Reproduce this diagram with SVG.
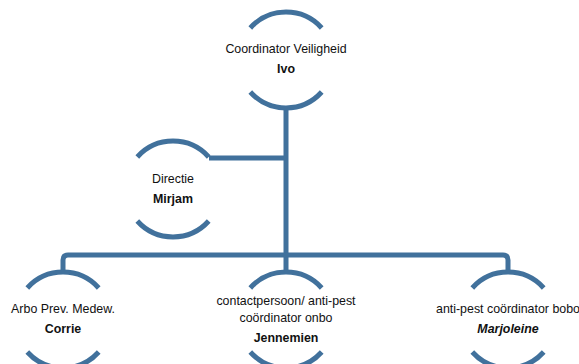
<svg xmlns="http://www.w3.org/2000/svg" width="579" height="364" viewBox="0 0 579 364">
<style>
.arc{fill:none;stroke:#41719C;stroke-width:5;stroke-linecap:butt}
.ln{fill:none;stroke:#41719C;stroke-width:5;stroke-linejoin:round}
text{font-family:"Liberation Sans",Arial,sans-serif;font-size:12.4px;fill:#111;text-anchor:middle}
.b{font-weight:bold}
.bi{font-weight:bold;font-style:italic}
</style>
<rect width="579" height="364" fill="#fff"/>
<g id="connectors">
<path class="ln" d="M286,107 V272"/>
<path class="ln" d="M209,158 H286"/>
<path class="ln" d="M63,272 V260 Q63,255 68,255 H503 Q508,255 508,260 V272"/>
</g>
<g id="n-ivo">
<path class="arc" d="M250.3,28 A48,48 0 0 1 321.7,28"/>
<path class="arc" d="M250.3,92 A48,48 0 0 0 321.7,92"/>
<text x="286" y="53">Coordinator Veiligheid</text>
<text class="b" x="286" y="73">Ivo</text>
</g>
<g id="n-mirjam">
<path class="arc" d="M137.3,157 A48,48 0 0 1 208.7,157"/>
<path class="arc" d="M137.3,221 A48,48 0 0 0 208.7,221"/>
<text x="173" y="183">Directie</text>
<text class="b" x="173" y="203">Mirjam</text>
</g>
<g id="n-corrie">
<path class="arc" d="M27.3,288 A48,48 0 0 1 98.7,288"/>
<path class="arc" d="M27.3,352 A48,48 0 0 0 98.7,352"/>
<text x="63" y="313">Arbo Prev. Medew.</text>
<text class="b" x="63" y="333">Corrie</text>
</g>
<g id="n-jennemien">
<path class="arc" d="M250.3,288 A48,48 0 0 1 321.7,288"/>
<path class="arc" d="M250.3,352 A48,48 0 0 0 321.7,352"/>
<text x="286" y="305">contactpersoon/ anti-pest</text>
<text x="286" y="322">coördinator onbo</text>
<text class="b" x="286" y="342">Jennemien</text>
</g>
<g id="n-marjoleine">
<path class="arc" d="M472.3,288 A48,48 0 0 1 543.7,288"/>
<path class="arc" d="M472.3,352 A48,48 0 0 0 543.7,352"/>
<text x="508" y="313">anti-pest coördinator bobo</text>
<text class="bi" x="508" y="333">Marjoleine</text>
</g>
</svg>
